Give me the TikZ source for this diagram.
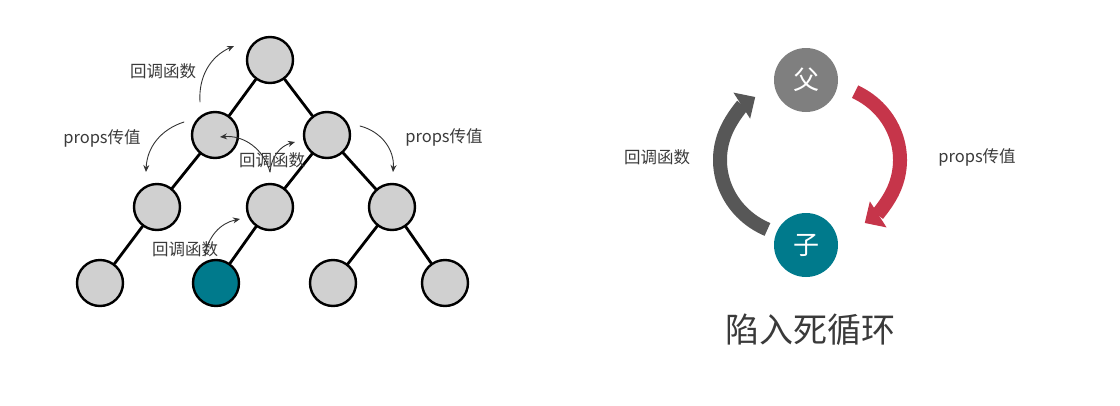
\documentclass[tikz,border=0pt]{standalone}
\usepackage{fontspec}
\setmainfont{Noto Sans CJK SC}
\usetikzlibrary{arrows.meta}
\definecolor{nodegray}{HTML}{D0D0D0}
\definecolor{teal}{HTML}{007A8C}
\definecolor{dadgray}{HTML}{7F7F7F}
\definecolor{arcgray}{HTML}{575757}
\definecolor{arcred}{HTML}{C6354A}
\definecolor{txt}{HTML}{3A3A3A}
\tikzset{
  tnode/.style={circle,draw=black,line width=2.4pt,fill=nodegray,minimum size=46pt,inner sep=0pt},
  edge/.style={line width=2.8pt},
  note/.style={text=txt,font=\fontsize{16.5}{16.5}\selectfont,inner sep=0pt},
  pass/.style={-{Stealth[length=7pt,width=6pt]},line width=0.9pt,black!80},
  big/.style={circle,minimum size=64pt,inner sep=0pt,text=white,font=\fontsize{26}{26}\selectfont},
}
\begin{document}
\begin{tikzpicture}[line cap=round,line join=round,x=1pt,y=-1pt]
\useasboundingbox (0,0) rectangle (1120,405);
% tree
\node[tnode] (r) at (270,60) {};
\node[tnode] (a) at (215,135) {};
\node[tnode] (b) at (327,135) {};
\node[tnode] (c) at (157,207) {};
\node[tnode] (d) at (270,207) {};
\node[tnode] (e) at (392,207) {};
\node[tnode] (f) at (100,283) {};
\node[tnode,fill=teal] (g) at (216,283) {};
\node[tnode] (h) at (333,283) {};
\node[tnode] (i) at (445,283) {};
\draw[edge] (r) -- (a);
\draw[edge] (r) -- (b);
\draw[edge] (a) -- (c);
\draw[edge] (b) -- (d);
\draw[edge] (b) -- (e);
\draw[edge] (c) -- (f);
\draw[edge] (d) -- (g);
\draw[edge] (e) -- (h);
\draw[edge] (e) -- (i);
% notes
\node[note] (n1) at (163,71) {回调函数};
\node[note] (n2) at (102,138) {props传值};
\node[note] (n3) at (272,160) {回调函数};
\node[note] (n4) at (185,249) {回调函数};
\node[note] (n5) at (444,137) {props传值};
\draw[pass] (200,102) to[bend left=35] (234,46);
\draw[pass] (184,122) to[bend right=35] (146,172);
\draw[pass] (270,172) to[bend right=40] (220,137);
\draw[pass] (270,172) to[bend left=35] (295,142);
\draw[pass] (205,256) to[bend left=35] (240,219);
\draw[pass] (360,126) to[bend left=40] (393,172);
% cycle
\node[big,fill=dadgray] (fu) at (806,80) {父};
\node[big,fill=teal] (zi) at (806,245) {子};
\draw[arcgray,line width=14pt,line cap=butt,-{Triangle[length=16pt,width=30pt]}]
  ([shift={(114:{80 and 76})}]800,160) arc[start angle=114,end angle=236,x radius=80,y radius=76];
\draw[arcred,line width=14pt,line cap=butt,-{Triangle[length=16pt,width=30pt]}]
  ([shift={(-64:{80 and 76})}]820,160) arc[start angle=-64,end angle=56,x radius=80,y radius=76];
\node[note] (cb) at (657,157) {回调函数};
\node[note] (pp) at (977,157) {props传值};
\node[text=txt,font=\fontsize{34}{34}\selectfont] (title) at (810,330) {陷入死循环};
\end{tikzpicture}
\end{document}
